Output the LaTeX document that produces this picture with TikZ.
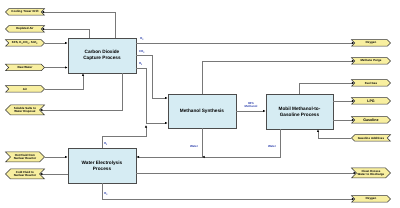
\documentclass[tikz,border=0pt]{standalone}
\usepackage{fontspec}
\setmainfont{Liberation Sans}
\usetikzlibrary{shapes.symbols,arrows.meta}
\definecolor{procfill}{RGB}{214,236,243}
\definecolor{tagfill}{RGB}{248,239,160}
\definecolor{labblue}{RGB}{40,60,170}
\definecolor{wiregrey}{RGB}{120,120,120}
\begin{document}
\begin{tikzpicture}[x=1pt,y=-1pt,
  proc/.style={draw=black!70, fill=procfill, line width=0.8pt, minimum width=68pt, minimum height=35pt,
    align=center, inner sep=0pt, font=\fontsize{4.7}{5.9}\selectfont\bfseries},
  tagbase/.style={signal, draw=black!80, fill=tagfill, line width=0.5pt, minimum width=39pt,
    minimum height=6.5pt, inner sep=0.3pt, align=center, text width=30pt,
    font=\fontsize{2.9}{3.3}\selectfont\bfseries},
  tagin/.style={tagbase, signal to=east, signal from=west},
  tagout/.style={tagbase, signal to=west, signal from=east},
  two/.style={minimum height=10pt, text width=28pt},
  wire/.style={draw=wiregrey, line width=0.8pt},
  arr/.style={wire, -{Latex[length=2.6pt,width=2.4pt,color=black]}},
  lab/.style={font=\fontsize{2.9}{3.3}\selectfont\bfseries, text=labblue, inner sep=0pt, align=center},
]
\useasboundingbox (0,0) rectangle (400,208);

% process boxes
\node[proc] (cdc) at (102,55.5) {Carbon Dioxide\\Capture Process};
\node[proc] (wep) at (102,165.5) {Water Electrolysis\\Process};
\node[proc, minimum height=34pt] (ms) at (202,111) {Methanol Synthesis};
\node[proc, minimum width=67pt] (mtg) at (299.5,111.5) {Mobil Methanol-to-\\Gasoline Process};

% left tags
\node[tagout] (ctd) at (25,12) {Cooling Tower Drift};
\node[tagout] (da) at (25,29) {Depleted Air};
\node[tagin] (kfs) at (25,43) {KFS, K\textsubscript{2}CO\textsubscript{3}, SnF\textsubscript{2}};
\node[tagin] (rw) at (25,67.5) {Raw Water};
\node[tagin] (air) at (25,89) {Air};
\node[tagout, two] (ss) at (25,110) {Soluble Salts to\\Water Disposal};
\node[tagin, two] (hf) at (25,157) {Hot Fluid from\\Nuclear Reactor};
\node[tagout, two] (cf) at (25,174) {Cold Fluid to\\Nuclear Reactor};

% right tags
\node[tagin] (oxa) at (371,43) {Oxygen};
\node[tagin] (mp) at (371,61) {Methane Purge};
\node[tagin] (fg) at (371,83) {Fuel Gas};
\node[tagin, font=\fontsize{3.6}{4}\selectfont\bfseries] (lpg) at (371,101) {LPG};
\node[tagin, font=\fontsize{3.6}{4}\selectfont\bfseries] (gas) at (371,120) {Gasoline};
\node[tagout] (ga) at (371,138) {Gasoline Additives};
\node[tagin, two] (cew) at (371,173) {Clean Excess\\Water to Discharge};
\node[tagin] (oxb) at (371,199) {Oxygen};

% carbon dioxide capture connectors
\draw[arr] (cdc.north -| 115,0) |- (ctd.east);
\draw[arr] (cdc.north -| 89,0) |- (da.east);
\draw[arr] (kfs.east) -- (kfs.east -| cdc.west);
\draw[arr] (rw.east) -- (rw.east -| cdc.west);
\draw[arr] (air.east) -| (cdc.south -| 83,0);
\draw[arr] (cdc.south -| 122,0) |- (ss.east);
\draw[arr] (cdc.east |- oxa.west) -- (oxa.west);
\draw[arr] (cdc.east |- 0,55.5) -| (152,98) -- (ms.west |- 0,98);
\draw[arr] (cdc.east |- 0,68) -| (146,123) -- (ms.west |- 0,123);

% electrolysis connectors
\draw[arr] (wep.north) |- (146,136) -- (146,125);
\draw[arr] (wep.south) |- (oxb.west);
\draw[arr] (hf.east) -- (hf.east -| wep.west);
\draw[arr] (wep.west |- cf.east) -- (cf.east);
\draw[arr] (wep.east |- cew.west) -- (cew.west);

% methanol synthesis connectors
\draw[arr] (ms.east) -- (ms.east -| mtg.west);
\draw[arr] (ms.north) |- (mp.west);
\draw[arr] (ms.south) |- (wep.east |- 0,157);

% MTG connectors
\draw[arr] (mtg.south -| 280,0) |- (ms.south |- 0,157);
\draw[arr] (mtg.north -| 299,0) |- (fg.west);
\draw[arr] (mtg.east |- lpg.west) -- (lpg.west);
\draw[arr] (mtg.east |- gas.west) -- (gas.west);
\draw[arr] (ga.west) -| (mtg.south -| 318,0);

% stream labels
\node[lab] (lo2a) at (142,39) {O\textsubscript{2}};
\node[lab] (lco2) at (142,52) {CO\textsubscript{2}};
\node[lab] (lh2a) at (141,64.5) {H\textsubscript{2}};
\node[lab] (lh2b) at (106,144) {H\textsubscript{2}};
\node[lab] (lo2b) at (106,194) {O\textsubscript{2}};
\node[lab] (lmeth) at (251,105) {98\%\\Methanol};
\node[lab] (lw1) at (194,147) {Water};
\node[lab] (lw2) at (272,147) {Water};
\end{tikzpicture}
\end{document}
